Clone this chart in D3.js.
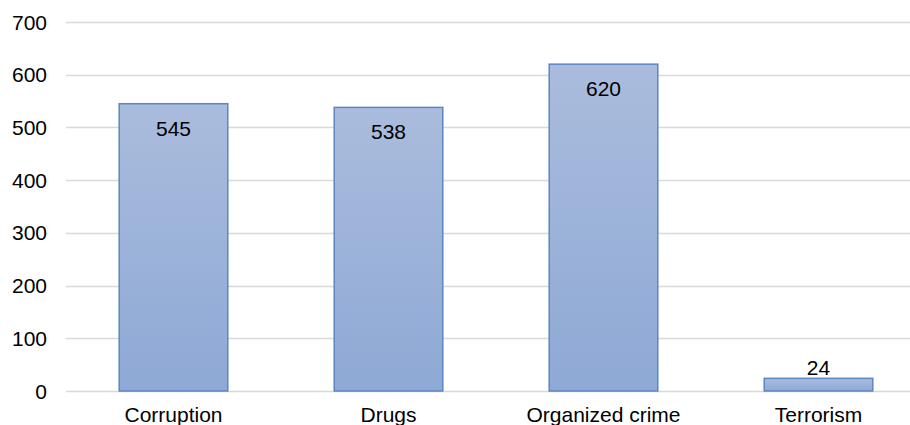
<!DOCTYPE html>
<html>
<head>
<meta charset="utf-8">
<script src="https://cdn.jsdelivr.net/npm/d3@7"></script>
<style>
  html, body { margin: 0; padding: 0; background: #fff; overflow: hidden; }
  svg { display: block; font-family: "Liberation Sans", Arial, sans-serif; }
</style>
</head>
<body>
<svg id="chart" width="910" height="425"></svg>
<script>
// Cases by crime type
const categories = ["Corruption", "Drugs", "Organized crime", "Terrorism"];
const values = [545, 538, 620, 24];
const yTicks = [0, 100, 200, 300, 400, 500, 600, 700];

const svg = d3.select("#chart");
const margin = { left: 66, top: 22, bottom: 391 };
const plotRight = 926;

const x = d3.scaleBand()
  .domain(categories)
  .range([margin.left, plotRight])
  .paddingInner(0.495)
  .paddingOuter(0.2475);

const y = d3.scaleLinear()
  .domain([0, 700])
  .range([margin.bottom, margin.top]);

// Vertical gradient for the bars
const defs = svg.append("defs");
const grad = defs.append("linearGradient")
  .attr("id", "barFill")
  .attr("x1", 0).attr("y1", 0).attr("x2", 0).attr("y2", 1);
grad.append("stop").attr("offset", "0%").attr("stop-color", "#aabcdd");
grad.append("stop").attr("offset", "100%").attr("stop-color", "#8ea9d5");

// Gridlines
svg.append("g")
  .selectAll("line")
  .data(yTicks)
  .join("line")
  .attr("x1", margin.left)
  .attr("x2", 910)
  .attr("y1", d => Math.round(y(d)) + 0.5)
  .attr("y2", d => Math.round(y(d)) + 0.5)
  .attr("stroke", "#d9d9d9")
  .attr("stroke-width", 1.5);

// Y axis labels
const yAxis = d3.axisLeft(y).tickValues(yTicks).tickSize(0).tickPadding(0);
svg.append("g")
  .attr("transform", `translate(47,0)`)
  .call(yAxis)
  .call(g => g.select(".domain").remove())
  .call(g => g.selectAll("text")
    .attr("font-size", 21)
    .attr("font-family", "Liberation Sans, Arial, sans-serif")
    .attr("fill", "#000")
    .attr("dy", "0.34em"));

// Bars
svg.append("g")
  .selectAll("rect")
  .data(values)
  .join("rect")
  .attr("x", (d, i) => x(categories[i]))
  .attr("y", d => y(d))
  .attr("width", x.bandwidth())
  .attr("height", d => y(0) - y(d))
  .attr("fill", "url(#barFill)")
  .attr("stroke", "#5a86c3")
  .attr("stroke-width", 1.5);

// Value labels: inside the top of the bar, above it when the bar is short
svg.append("g")
  .selectAll("text")
  .data(values)
  .join("text")
  .attr("x", (d, i) => x(categories[i]) + x.bandwidth() / 2)
  .attr("y", d => (y(0) - y(d) > 40) ? y(d) + 32 : y(d) - 3)
  .attr("text-anchor", "middle")
  .attr("font-size", 21)
  .attr("fill", "#000")
  .text(d => d);

// Category labels
const xAxis = d3.axisBottom(x).tickSize(0).tickPadding(0);
svg.append("g")
  .attr("transform", `translate(0,0)`)
  .call(xAxis)
  .call(g => g.select(".domain").remove())
  .call(g => g.selectAll("text")
    .attr("font-size", 21)
    .attr("font-family", "Liberation Sans, Arial, sans-serif")
    .attr("fill", "#000")
    .attr("y", 422)
    .attr("dy", 0));
</script>
</body>
</html>
